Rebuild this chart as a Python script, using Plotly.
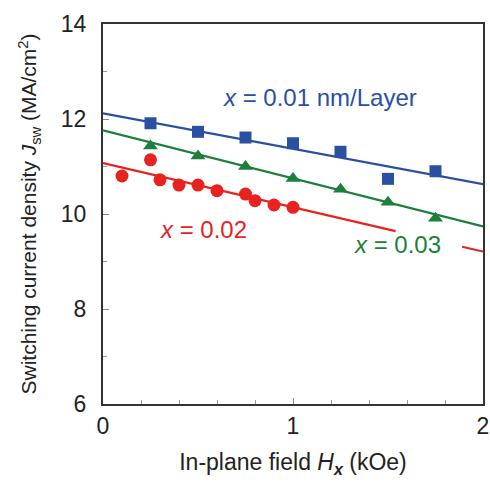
import plotly.graph_objects as go

# Data
x_blue = [0.25, 0.50, 0.75, 1.00, 1.25, 1.50, 1.75]
y_blue = [11.91, 11.73, 11.61, 11.49, 11.31, 10.74, 10.90]
x_green = [0.25, 0.50, 0.75, 1.00, 1.25, 1.50, 1.75]
y_green = [11.43, 11.22, 11.00, 10.75, 10.52, 10.25, 9.91]
x_red = [0.10, 0.25, 0.30, 0.40, 0.50, 0.60, 0.75, 0.80, 0.90, 1.00]
y_red = [10.80, 11.14, 10.72, 10.61, 10.61, 10.49, 10.42, 10.28, 10.19, 10.14]

fit_blue_x = [0, 2]
fit_blue_y = [12.12, 10.63]
fit_green_x = [0, 2]
fit_green_y = [11.76, 9.74]
fit_red_x = [0, 1.54, None, 1.89, 2.0]
fit_red_y = [11.07, 9.64, None, 9.31, 9.21]

BLUE = "#2a50a2"
GREEN = "#1c7f3b"
RED = "#e8231f"
FONT = "Liberation Sans, Arial, sans-serif"

fig = go.Figure()
fig.add_trace(go.Scatter(x=fit_blue_x, y=fit_blue_y, mode="lines",
                         line=dict(color=BLUE, width=2.2)))
fig.add_trace(go.Scatter(x=fit_green_x, y=fit_green_y, mode="lines",
                         line=dict(color=GREEN, width=2.2)))
fig.add_trace(go.Scatter(x=fit_red_x, y=fit_red_y, mode="lines",
                         line=dict(color=RED, width=2.2), connectgaps=False))
fig.add_trace(go.Scatter(x=x_blue, y=y_blue, mode="markers",
                         marker=dict(symbol="square", size=12, color=BLUE)))
fig.add_trace(go.Scatter(x=x_green, y=y_green, mode="markers",
                         marker=dict(symbol="triangle-up", size=13, color=GREEN)))
fig.add_trace(go.Scatter(x=x_red, y=y_red, mode="markers",
                         marker=dict(symbol="circle", size=13, color=RED)))

fig.add_annotation(x=0.62, y=12.46, text="<i>x</i> = 0.01 nm/Layer", showarrow=False,
                   font=dict(family=FONT, size=24, color=BLUE), xanchor="left")
fig.add_annotation(x=0.29, y=9.68, text="<i>x</i> = 0.02", showarrow=False,
                   font=dict(family=FONT, size=24, color=RED), xanchor="left")
fig.add_annotation(x=1.31, y=9.35, text="<i>x</i> = 0.03", showarrow=False,
                   font=dict(family=FONT, size=24, color=GREEN), xanchor="left")

axis_common = dict(showgrid=False, zeroline=False, showline=True, linecolor="#333333",
                   linewidth=2, mirror=True, ticks="inside", ticklen=6,
                   tickcolor="#888888", tickwidth=1, automargin=False,
                   tickfont=dict(family=FONT, size=23, color="#222222"))

fig.update_xaxes(range=[0, 2], dtick=1, tick0=0,
                 minor=dict(dtick=0.2, ticks="inside", ticklen=4, tickcolor="#999999"),
                 title=dict(text="In-plane field <i>H<sub><b>x</b></sub></i> (kOe)",
                            font=dict(family=FONT, size=23, color="#222222"), standoff=16),
                 ticklabelstandoff=0,
                 **axis_common)
fig.update_yaxes(range=[6, 14], dtick=2, tick0=6,
                 minor=dict(dtick=1, ticks="inside", ticklen=4, tickcolor="#999999"),
                 title=dict(text="Switching current density <i>J</i><sub>sw</sub> (MA/cm<sup>2</sup>)",
                            font=dict(family=FONT, size=21, color="#222222"), standoff=18),
                 ticklabelstandoff=10,
                 **axis_common)

fig.update_layout(width=490, height=485, showlegend=False,
                  margin=dict(l=103, r=7, t=24, b=81),
                  plot_bgcolor="white", paper_bgcolor="white")

fig.write_html("out.html",
               config={"displayModeBar": False},
               post_script="document.body.style.margin='0';document.body.style.overflow='hidden';")
